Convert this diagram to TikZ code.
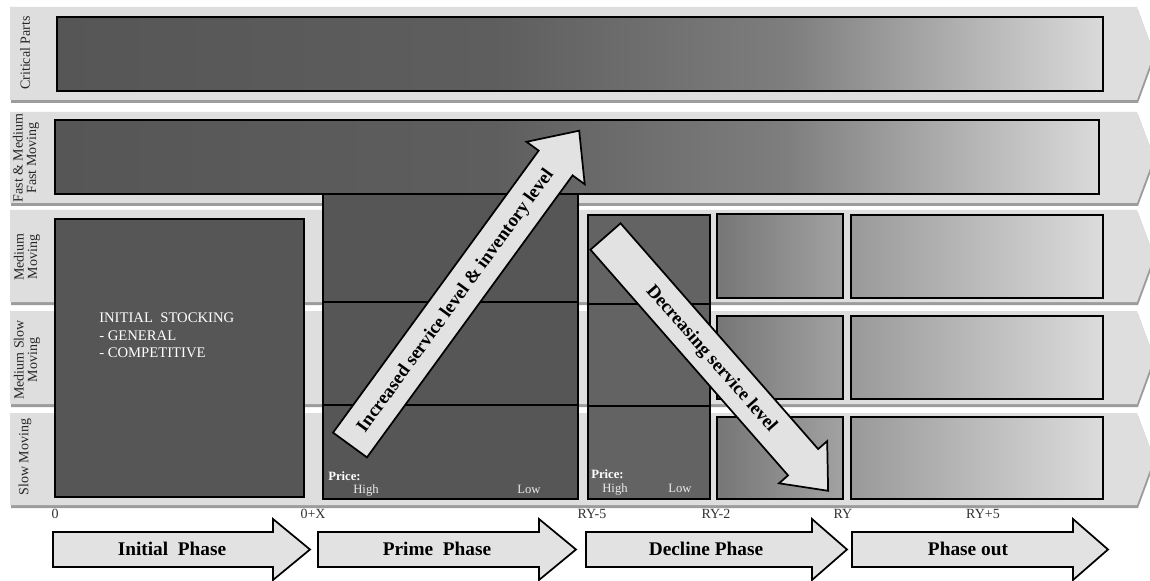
\documentclass[tikz,border=0pt]{standalone}
\usepackage{fontspec}
\setmainfont{Liberation Serif}

\definecolor{lanefill}{HTML}{DEDEDE}
\definecolor{laneshadow}{HTML}{9C9C9C}
\definecolor{darkbox}{HTML}{565656}
\definecolor{declinebox}{HTML}{636363}
\definecolor{arrowfill}{HTML}{E2E2E2}
\definecolor{bfA}{HTML}{565656}
\definecolor{bfB}{HTML}{5E5E5E}
\definecolor{bfM}{HTML}{7E7E7E}
\definecolor{bfC}{HTML}{DADADA}
\definecolor{ryA}{HTML}{767676}
\definecolor{ryB}{HTML}{A2A2A2}
\definecolor{poA}{HTML}{999999}
\definecolor{poB}{HTML}{DCDCDC}

% horizontal fades for the stock bars (useful part is 25bp..75bp)
\pgfdeclarehorizontalshading{barfade}{100bp}{color(0bp)=(bfA); color(25bp)=(bfA); color(46bp)=(bfB); color(60bp)=(bfM); color(75bp)=(bfC); color(100bp)=(bfC)}
\pgfdeclarehorizontalshading{ryfade}{100bp}{color(0bp)=(ryA); color(25bp)=(ryA); color(75bp)=(ryB); color(100bp)=(ryB)}
\pgfdeclarehorizontalshading{outfade}{100bp}{color(0bp)=(poA); color(25bp)=(poA); color(75bp)=(poB); color(100bp)=(poB)}

\newcommand\PhaseArrow[3]{%
  \draw[phasearrow] (#1,532) -- (#2,532) -- (#2,519) -- (#3,549.5) -- (#2,580) -- (#2,567) -- (#1,567) -- cycle;}

\begin{document}
\begin{tikzpicture}[x=0.75pt,y=-0.75pt,
  boxline/.style={draw=black,line width=1.5pt},
  lanelabel/.style={rotate=90,inner sep=0pt,text=black!85,font=\fontsize{10.5}{10}\selectfont,align=center},
  inbox/.style={text=white,inner sep=0pt},
  pricelabel/.style={text=white,inner sep=0pt,anchor=base west,font=\fontsize{9.5}{11}\selectfont\bfseries},
  pricevalue/.style={text=white!92!black,inner sep=0pt,anchor=base,font=\fontsize{9.5}{11}\selectfont},
  ticklabel/.style={text=black!80,inner sep=0pt,anchor=base,font=\fontsize{10.5}{12}\selectfont},
  bigarrow/.style={fill=arrowfill,draw=black,line width=1.3pt,line join=miter},
  arrowtext/.style={inner sep=0pt,font=\fontsize{14}{16}\selectfont\bfseries},
  phasearrow/.style={fill=arrowfill,draw=black,line width=1.3pt,line join=miter},
  phasetext/.style={inner sep=0pt,font=\fontsize{14.5}{16}\selectfont\bfseries}]

\useasboundingbox (0,0) rectangle (1150,581);
\fill[white] (0,0) rectangle (1150,581);

% category lanes (chevrons with a shadow below)
\foreach \t/\b in {7/100,112/203,210/302,311/404,413/505}{
  \pgfmathsetmacro\m{(\t+\b)/2}
  \fill[laneshadow] (11,\t+3) -- (1138,\t+3) -- (1155,\m+3) -- (1138,\b+3) -- (11,\b+3) -- cycle;
  \fill[lanefill] (10,\t) -- (1137,\t) -- (1154,\m) -- (1137,\b) -- (10,\b) -- cycle;
}

% lane captions
\node[lanelabel] (critical) at (25,53) {Critical Parts};
\node[lanelabel] (fast) at (26,158) {Fast \& Medium\\Fast Moving};
\node[lanelabel] (medium) at (27,257) {Medium\\Moving};
\node[lanelabel] (medslow) at (27,360) {Medium Slow\\Moving};
\node[lanelabel] (slow) at (25,457) {Slow Moving};

% stock bars for critical and fast movers
\shadedraw[shading=barfade,boxline] (57,17) rectangle (1103,91);
\shadedraw[shading=barfade,boxline] (55,120) rectangle (1099,194);

% initial stocking block
\filldraw[fill=darkbox,boxline] (55,219) rectangle (304,497);
\node[inbox,anchor=north west,align=left,font=\fontsize{11}{13}\selectfont] (stocking) at (99,313)
  {INITIAL\ \ STOCKING\\- GENERAL\\- COMPETITIVE};

% prime phase block
\filldraw[fill=darkbox,boxline] (323,194) rectangle (578,499);
\draw[boxline] (323,302) -- (578,302);
\draw[boxline] (323,405) -- (578,405);

% decline phase block
\filldraw[fill=declinebox,boxline] (588,215) rectangle (710,499);
\draw[boxline] (588,304) -- (710,304);
\draw[boxline] (588,406) -- (710,406);

% RY-2 .. RY blocks
\shadedraw[shading=ryfade,boxline] (717,214) rectangle (843,298);
\shadedraw[shading=ryfade,boxline] (717,316) rectangle (843,399);
\shadedraw[shading=ryfade,boxline] (717,417) rectangle (843,499);

% phase-out blocks
\shadedraw[shading=outfade,boxline] (851,215) rectangle (1103,298);
\shadedraw[shading=outfade,boxline] (851,316) rectangle (1103,399);
\shadedraw[shading=outfade,boxline] (851,417) rectangle (1103,499);

% price annotations
\node[pricelabel] (p1) at (328,480) {Price:};
\node[pricevalue] (p1h) at (366,493) {High};
\node[pricevalue] (p1l) at (529,493) {Low};
\node[pricelabel] (p2) at (591,478) {Price:};
\node[pricevalue] (p2h) at (615,492) {High};
\node[pricevalue] (p2l) at (680,492) {Low};

% service level arrows
\begin{scope}[shift={(350,445)},rotate=53.9]
  \draw[bigarrow] (0,-21) -- (349,-21) -- (349,-36) -- (389,0) -- (349,36) -- (349,21) -- (0,21) -- cycle;
\end{scope}
\node[arrowtext,rotate=53.9] (increase) at (456,301) {Increased service level \& inventory level};

\begin{scope}[shift={(605.5,236.5)},rotate=-48.8]
  \draw[bigarrow] (0,-20) -- (300,-20) -- (300,-32) -- (338,0) -- (300,32) -- (300,20) -- (0,20) -- cycle;
\end{scope}
\node[arrowtext,rotate=-48.8] (decrease) at (711,359) {Decreasing service level};

% time marks
\node[ticklabel] (t0) at (55,518) {0};
\node[ticklabel] (tx) at (313,518) {0+X};
\node[ticklabel] (ry5) at (592,518) {RY-5};
\node[ticklabel] (ry2) at (716,518) {RY-2};
\node[ticklabel] (ry) at (843,518) {RY};
\node[ticklabel] (ryp5) at (983,518) {RY+5};

% life-cycle phases
\PhaseArrow{53}{273}{310}
\PhaseArrow{318}{539}{576}
\PhaseArrow{586}{812}{847}
\PhaseArrow{852}{1073}{1108}
\node[phasetext] (initial) at (172,549) {Initial\ \ Phase};
\node[phasetext] (prime) at (437,549) {Prime\ \ Phase};
\node[phasetext] (decline) at (706,549) {Decline Phase};
\node[phasetext] (phaseout) at (968,549) {Phase out};

\end{tikzpicture}
\end{document}
